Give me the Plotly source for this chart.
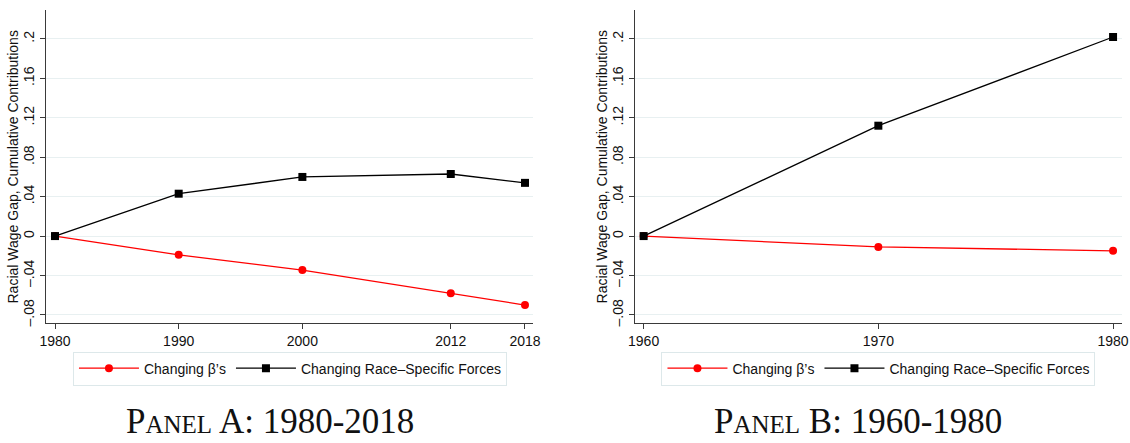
import plotly.graph_objects as go

# Panel A: 1980-2018
years_a = [1980, 1990, 2000, 2012, 2018]
beta_a = [0.0, -0.019, -0.0345, -0.058, -0.070]
race_a = [0.0, 0.043, 0.060, 0.063, 0.054]

# Panel B: 1960-1980
years_b = [1960, 1970, 1980]
beta_b = [0.0, -0.011, -0.015]
race_b = [0.0, 0.112, 0.202]

y_ticks = [-0.08, -0.04, 0, 0.04, 0.08, 0.12, 0.16, 0.2]
y_tick_text = ["\u2013.08", "\u2013.04", "0", ".04", ".08", ".12", ".16", ".2"]

beta_name = "Changing \u03b2\u2019s"
race_name = "Changing Race\u2013Specific Forces"
y_title = "Racial Wage Gap, Cumulative Contributions"
panel_titles = ["Panel A: 1980-2018", "Panel B: 1960-1980"]

RED = "#ff0000"
BLACK = "#000000"
GRID = "#e8f0f1"
AXIS = "#3a3a3a"
SANS = "Liberation Sans, Arial, sans-serif"

fig = go.Figure()

panels = [
    ("x", "y", "legend", years_a, beta_a, race_a),
    ("x2", "y2", "legend2", years_b, beta_b, race_b),
]
for xa, ya, lg, yrs, beta, race in panels:
    fig.add_trace(go.Scatter(
        x=yrs, y=beta, mode="lines+markers", name=beta_name,
        line=dict(color=RED, width=1.3),
        marker=dict(symbol="circle", size=8, color=RED),
        xaxis=xa, yaxis=ya, legend=lg,
    ))
    fig.add_trace(go.Scatter(
        x=yrs, y=race, mode="lines+markers", name=race_name,
        line=dict(color=BLACK, width=1.3),
        marker=dict(symbol="square", size=8, color=BLACK),
        xaxis=xa, yaxis=ya, legend=lg,
    ))

y_dom = [0.2709, 0.9774]
x_doms = [[0.0407, 0.4717], [0.5619, 0.9929]]

def xaxis_style(domain, rng, ticks):
    return dict(
        domain=domain, range=rng, tickvals=ticks, ticktext=[str(t) for t in ticks],
        automargin=False,
        showgrid=False, zeroline=False, showline=True, linecolor=AXIS, linewidth=1,
        ticks="outside", ticklen=5, tickcolor=AXIS, tickwidth=1,
        tickfont=dict(family=SANS, size=14, color="#111"),
    )

def yaxis_style(anchor):
    return dict(
        domain=y_dom, range=[-0.0882, 0.2294], anchor=anchor,
        tickvals=y_ticks, ticktext=y_tick_text, tickangle=-90,
        automargin=False,
        showgrid=True, gridcolor=GRID, gridwidth=1, zeroline=False,
        showline=True, linecolor=AXIS, linewidth=1,
        ticks="outside", ticklen=5, tickcolor=AXIS, tickwidth=1,
        tickfont=dict(family=SANS, size=14, color="#111"),
    )

legend_style = dict(
    orientation="h", xanchor="center", yanchor="middle", y=0.168,
    bgcolor="white", bordercolor="#dde8ea", borderwidth=1,
    font=dict(family=SANS, size=14, color="#111"),
    itemwidth=60, traceorder="normal",
)

fig.update_layout(
    width=1130, height=443,
    margin=dict(l=0, r=0, t=0, b=0),
    paper_bgcolor="white", plot_bgcolor="white",
    showlegend=True,
    xaxis=xaxis_style(x_doms[0], [1979.27, 2018.65], years_a) | dict(anchor="y"),
    xaxis2=xaxis_style(x_doms[1], [1959.63, 1980.38], years_b) | dict(anchor="y2"),
    yaxis=yaxis_style("x"),
    yaxis2=yaxis_style("x2"),
    legend=legend_style | dict(x=0.2566),
    legend2=legend_style | dict(x=0.7774),
)

# Vertical axis titles, set a fixed distance left of each plot area
for dom in x_doms:
    fig.add_annotation(
        xref="paper", yref="paper", x=dom[0] - 33 / 1130, y=sum(y_dom) / 2,
        xanchor="center", yanchor="middle", textangle=-90, showarrow=False,
        text=y_title, font=dict(family=SANS, size=14, color="#111"),
    )

# Panel captions underneath
for cx, text in zip([0.239, 0.759], panel_titles):
    fig.add_annotation(
        xref="paper", yref="paper", x=cx, y=0.0, xanchor="center", yanchor="bottom",
        text=text, showarrow=False,
        font=dict(family="Liberation Serif, Times New Roman, serif", size=35,
                  color="#111", variant="small-caps"),
    )

fig.write_html("out.html")
